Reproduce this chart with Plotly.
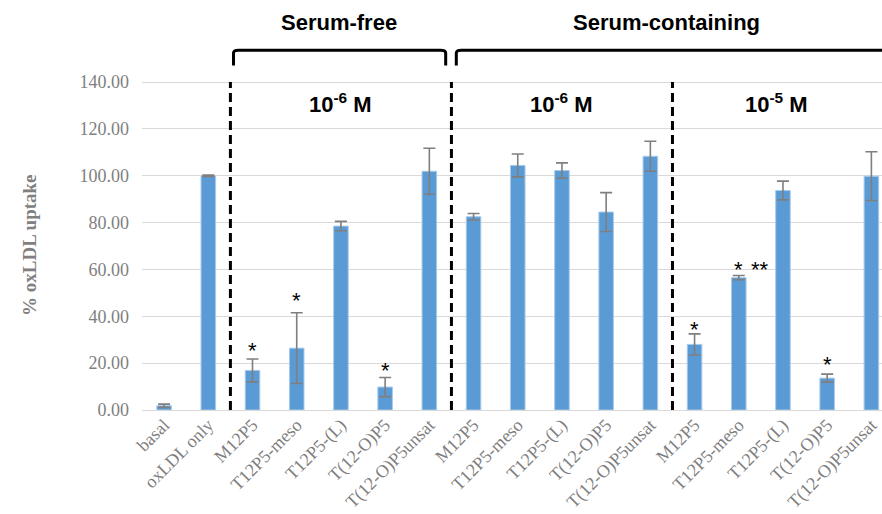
import plotly.graph_objects as go

# Treatments along the x axis (controls, then serum-free 1e-6 M, serum-containing 1e-6 M and 1e-5 M)
labels = ["basal", "oxLDL only",
          "M12P5", "T12P5-meso", "T12P5-(L)", "T(12-O)P5", "T(12-O)P5unsat",
          "M12P5", "T12P5-meso", "T12P5-(L)", "T(12-O)P5", "T(12-O)P5unsat",
          "M12P5", "T12P5-meso", "T12P5-(L)", "T(12-O)P5", "T(12-O)P5unsat"]

uptake_mean = [1.8, 100.0,
               16.9, 26.4, 78.5, 9.8, 101.9,
               82.5, 104.4, 102.2, 84.5, 108.3,
               28.0, 56.5, 93.7, 13.6, 99.8]

uptake_err = [0.7, 0.3,
              4.9, 15.1, 2.0, 4.1, 9.8,
              1.4, 4.9, 3.3, 8.3, 6.4,
              4.5, 0.9, 4.0, 1.7, 10.4]

# Significance marks: (bar position, text, value at which the mark sits)
sig_marks = [(2, "*", 27.5), (3, "*", 49.0), (5, "*", 19.0),
             (12, "*", 36.5), (13, "*", 62.0), (13.47, "**", 62.0), (15, "*", 21.5)]

# Group headers and concentration labels
groups = [("Serum-free", 3.96), ("Serum-containing", 11.36)]
conc = [("10<sup>-6</sup> M", 4.0), ("10<sup>-6</sup> M", 9.0), ("10<sup>-5</sup> M", 13.85)]
separators = [1.5, 6.5, 11.5]

x = list(range(len(labels)))

fig = go.Figure()
fig.add_trace(go.Bar(
    x=x, y=uptake_mean, width=0.33,
    marker=dict(color="#5B9BD5", line=dict(color="#A9CBEA", width=1)),
    error_y=dict(type="data", array=uptake_err, visible=True,
                 color="#7F7F7F", thickness=1.6, width=6),
    showlegend=False,
))

shapes = []
for sx in separators:
    shapes.append(dict(type="line", xref="x", yref="y", x0=sx, x1=sx, y0=0, y1=140,
                       line=dict(color="black", width=3, dash="9px,5px"), layer="above"))


def bracket(x0, x1, ytop, yend, r=0.12, rv=1.2):
    return ("M {a},{e} L {a},{c} Q {a},{t} {b},{t} L {d},{t} Q {f},{t} {f},{c} L {f},{e}"
            .format(a=x0, b=x0 + r, c=ytop - rv, d=x1 - r, f=x1, t=ytop, e=yend))


shapes.append(dict(type="path", xref="x", yref="y",
                   path=bracket(1.57, 6.37, 153.6, 147.0),
                   line=dict(color="black", width=3)))
shapes.append(dict(type="path", xref="x", yref="y",
                   path=bracket(6.61, 17.5, 153.6, 147.0),
                   line=dict(color="black", width=3)))

annotations = []
for text, gx in groups:
    annotations.append(dict(x=gx, y=165.5, xref="x", yref="y", text="<b>" + text + "</b>",
                            showarrow=False,
                            font=dict(family="Liberation Sans", size=22, color="black"),
                            xanchor="center", yanchor="middle"))
for text, cx in conc:
    annotations.append(dict(x=cx, y=131, xref="x", yref="y", text="<b>" + text + "</b>",
                            showarrow=False,
                            font=dict(family="Liberation Sans", size=22, color="black"),
                            xanchor="center", yanchor="middle"))
for px, text, yv in sig_marks:
    annotations.append(dict(x=px, y=yv, xref="x", yref="y", text=text, showarrow=False,
                            font=dict(family="Liberation Sans", size=22, color="black"),
                            xanchor="center", yanchor="middle", yshift=-5))
annotations.append(dict(x=-0.153, y=0.402, xref="paper", yref="paper",
                        text="<b>% oxLDL uptake</b>", textangle=-90, showarrow=False,
                        font=dict(family="Liberation Serif", size=19, color="#808080"),
                        xanchor="center", yanchor="middle"))

fig.update_layout(
    width=882, height=514,
    margin=dict(l=142, r=0, t=0, b=104),
    plot_bgcolor="white", paper_bgcolor="white",
    shapes=shapes, annotations=annotations,
    xaxis=dict(range=[-0.5, 16.24], tickmode="array", tickvals=x, ticktext=labels,
               tickangle=-45, showgrid=False, zeroline=False, showline=False,
               tickfont=dict(family="Liberation Serif", size=18, color="#7F7F7F")),
    yaxis=dict(range=[0, 175], tickmode="array", tickvals=[0, 20, 40, 60, 80, 100, 120, 140],
               tickformat=".2f", showgrid=True, gridcolor="#D9D9D9", gridwidth=1,
               zeroline=True, zerolinecolor="#D9D9D9", zerolinewidth=1, showline=False,
               ticklabelstandoff=12,
               tickfont=dict(family="Liberation Serif", size=18, color="#7F7F7F")),
)

fig.write_html("out.html")
